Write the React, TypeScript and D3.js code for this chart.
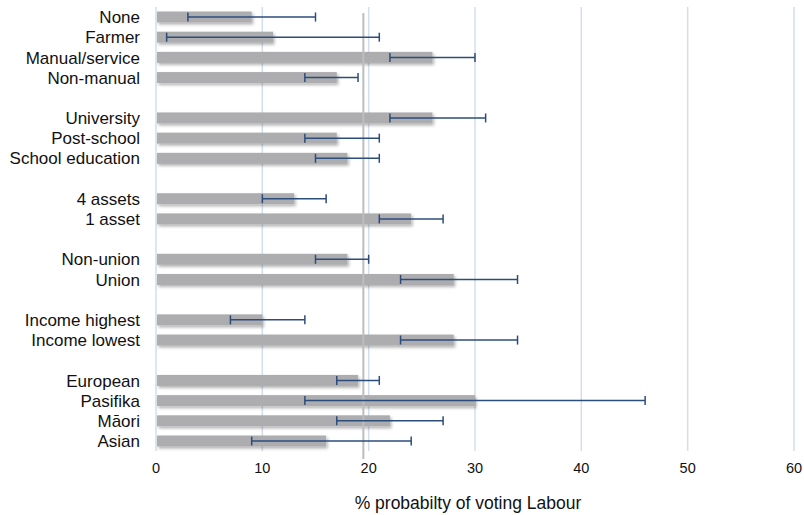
import * as d3 from "d3";
import { useRef, useEffect } from "react";

// categories top to bottom; "" marks a blank spacer row between groups
const categories = [
  "None", "Farmer", "Manual/service", "Non-manual", "",
  "University", "Post-school", "School education", "",
  "4 assets", "1 asset", "",
  "Non-union", "Union", "",
  "Income highest", "Income lowest", "",
  "European", "Pasifika", "Māori", "Asian",
];
const values = [9, 11, 26, 17, null, 26, 17, 18, null, 13, 24, null, 18, 28, null, 10, 28, null, 19, 30, 22, 16];
const lower = [3, 1, 22, 14, null, 22, 14, 15, null, 10, 21, null, 15, 23, null, 7, 23, null, 17, 14, 17, 9];
const upper = [15, 21, 30, 19, null, 31, 21, 21, null, 16, 27, null, 20, 34, null, 14, 34, null, 21, 46, 27, 24];
const xTicks = [0, 10, 20, 30, 40, 50, 60];
const average = 19.5;

export default function App() {
  const ref = useRef<SVGSVGElement | null>(null);
  const width = 804;
  const height = 515;

  useEffect(() => {
    const svg = d3.select(ref.current);
    svg.selectAll("*").remove();

    const font = "'Liberation Sans', Arial, sans-serif";
    const x = d3.scaleLinear().domain([0, 60]).range([156, 794]);
    const y = d3
      .scalePoint<number>()
      .domain(d3.range(categories.length))
      .range([17, 441]);

    const defs = svg.append("defs");
    const f = defs
      .append("filter")
      .attr("id", "shadow")
      .attr("x", "-10%")
      .attr("y", "-50%")
      .attr("width", "130%")
      .attr("height", "250%");
    f.append("feDropShadow")
      .attr("dx", 1.5)
      .attr("dy", 2)
      .attr("stdDeviation", 1.8)
      .attr("flood-color", "#000")
      .attr("flood-opacity", 0.3);

    // gridlines
    svg
      .append("g")
      .selectAll("line")
      .data(xTicks)
      .join("line")
      .attr("x1", (d) => x(d))
      .attr("x2", (d) => x(d))
      .attr("y1", 7)
      .attr("y2", 451)
      .attr("stroke", "#d3deec")
      .attr("stroke-width", 1.5);

    // bars
    const rows = d3.range(categories.length).filter((i) => values[i] != null);
    svg
      .append("g")
      .selectAll("rect")
      .data(rows)
      .join("rect")
      .attr("x", x(0) + 1)
      .attr("y", (i) => y(i)! - 5.5)
      .attr("width", (i) => x(values[i]!) - x(0) - 1)
      .attr("height", 11)
      .attr("fill", "#adacaf")
      .attr("filter", "url(#shadow)");

    // average line
    svg
      .append("line")
      .attr("x1", x(average))
      .attr("x2", x(average))
      .attr("y1", 13)
      .attr("y2", 459)
      .attr("stroke", "#bdbdbd")
      .attr("stroke-width", 2);

    // error bars
    const eb = svg
      .append("g")
      .attr("stroke", "#2c4d7c")
      .attr("stroke-width", 1.5)
      .selectAll("g")
      .data(rows)
      .join("g");
    eb.append("line")
      .attr("x1", (i) => x(lower[i]!))
      .attr("x2", (i) => x(upper[i]!))
      .attr("y1", (i) => y(i)!)
      .attr("y2", (i) => y(i)!);
    eb.append("line")
      .attr("x1", (i) => x(lower[i]!))
      .attr("x2", (i) => x(lower[i]!))
      .attr("y1", (i) => y(i)! - 4.5)
      .attr("y2", (i) => y(i)! + 4.5);
    eb.append("line")
      .attr("x1", (i) => x(upper[i]!))
      .attr("x2", (i) => x(upper[i]!))
      .attr("y1", (i) => y(i)! - 4.5)
      .attr("y2", (i) => y(i)! + 4.5);

    // category labels
    svg
      .append("g")
      .selectAll("text")
      .data(rows)
      .join("text")
      .attr("x", 140)
      .attr("y", (i) => y(i)!)
      .attr("dy", "0.36em")
      .attr("text-anchor", "end")
      .attr("font-family", font)
      .attr("font-size", 17)
      .attr("fill", "#111")
      .text((i) => categories[i]);

    // tick labels
    svg
      .append("g")
      .selectAll("text")
      .data(xTicks)
      .join("text")
      .attr("x", (d) => x(d))
      .attr("y", 473)
      .attr("text-anchor", "middle")
      .attr("font-family", font)
      .attr("font-size", 14.5)
      .attr("fill", "#111")
      .text((d) => d);

    svg
      .append("text")
      .attr("x", 468)
      .attr("y", 509)
      .attr("text-anchor", "middle")
      .attr("font-family", font)
      .attr("font-size", 17.5)
      .attr("fill", "#111")
      .text("% probabilty of voting Labour");
  }, []);

  return (
    <svg
      width={width}
      height={height}
      ref={ref}
      style={{ position: "absolute", left: 0, top: 0, background: "#fff" }}
    />
  );
}
